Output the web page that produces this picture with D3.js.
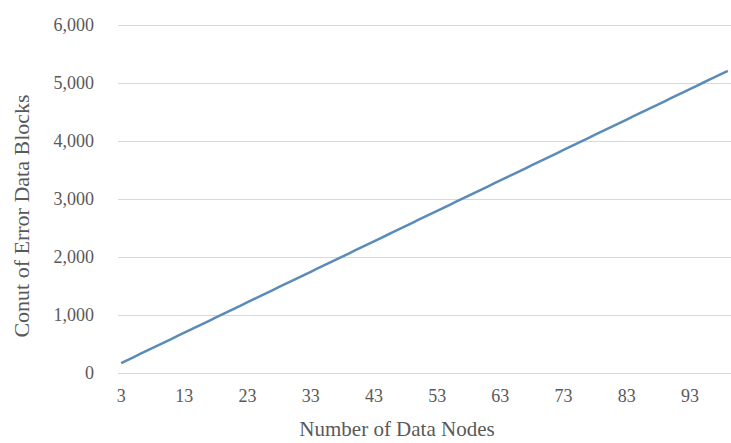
<!DOCTYPE html>
<html>
<head>
<meta charset="utf-8">
<script src="https://cdn.jsdelivr.net/npm/d3@7"></script>
<style>
  html, body { margin: 0; padding: 0; background: #fff; }
  svg { display: block; }
</style>
</head>
<body>
<svg id="chart" width="731" height="443"></svg>
<script>
const nodes = [3,4,5,6,7,8,9,10,11,12,13,14,15,16,17,18,19,20,21,22,23,24,25,26,27,28,29,30,31,32,33,34,35,36,37,38,39,40,41,42,43,44,45,46,47,48,49,50,51,52,53,54,55,56,57,58,59,60,61,62,63,64,65,66,67,68,69,70,71,72,73,74,75,76,77,78,79,80,81,82,83,84,85,86,87,88,89,90,91,92,93,94,95,96,97,98,99];
const errorBlocks = [170,223,275,328,380,433,485,538,590,643,695,748,800,853,905,958,1010,1063,1115,1168,1220,1273,1325,1378,1430,1483,1535,1588,1640,1693,1745,1798,1850,1903,1955,2008,2060,2113,2165,2218,2270,2323,2375,2428,2480,2533,2585,2638,2690,2743,2795,2848,2900,2953,3005,3058,3110,3163,3215,3268,3320,3373,3425,3478,3530,3583,3635,3688,3740,3793,3845,3898,3950,4003,4055,4108,4160,4213,4265,4318,4370,4423,4475,4528,4580,4633,4685,4738,4790,4843,4895,4948,5000,5053,5105,5158,5210];
const xTickLabels = [3,13,23,33,43,53,63,73,83,93];
const yTicks = [0,1000,2000,3000,4000,5000,6000];
const xTitle = "Number of Data Nodes";
const yTitle = "Conut of Error Data Blocks";

(function () {
const svg = d3.select("#chart");
const mLeft = 118, mRight = 731, mTop = 25, mBottom = 373;
const font = "'Liberation Serif', 'Times New Roman', serif";
const textColor = "#595959";

const x = d3.scaleBand().domain(nodes).range([mLeft, mRight]).padding(0);
const y = d3.scaleLinear().domain([0, 6000]).range([mBottom, mTop]);

// gridlines + y labels
const yAxis = d3.axisLeft(y).tickValues(yTicks).tickFormat(d3.format(",")).tickSize(-(mRight - mLeft)).tickPadding(24);
const gy = svg.append("g").attr("transform", `translate(${mLeft},0)`).call(yAxis);
gy.select(".domain").remove();
gy.selectAll(".tick line").attr("stroke", "#d9d9d9").attr("stroke-width", 1);
gy.selectAll(".tick text").attr("fill", textColor).style("font-family", font).style("font-size", "18px");

// x labels
const xAxis = d3.axisBottom(x).tickValues(xTickLabels).tickSize(0).tickPadding(16);
const gx = svg.append("g").attr("transform", `translate(0,${mBottom})`).call(xAxis);
gx.select(".domain").remove();
gx.selectAll(".tick text").attr("fill", textColor).style("font-family", font).style("font-size", "18px");

// line
const line = d3.line()
  .x((d, i) => x(nodes[i]) + x.bandwidth() / 2)
  .y(d => y(d));
svg.append("path")
  .datum(errorBlocks)
  .attr("fill", "none")
  .attr("stroke", "#5b8cb8")
  .attr("stroke-width", 2.5)
  .attr("stroke-linejoin", "round")
  .attr("d", line);

// titles
svg.append("text")
  .attr("x", 397).attr("y", 436)
  .attr("text-anchor", "middle")
  .attr("fill", textColor)
  .style("font-family", font).style("font-size", "21px")
  .text(xTitle);

svg.append("text")
  .attr("transform", "translate(29,216) rotate(-90)")
  .attr("text-anchor", "middle")
  .attr("fill", textColor)
  .style("font-family", font).style("font-size", "22px")
  .text(yTitle);
})();
</script>
</body>
</html>
